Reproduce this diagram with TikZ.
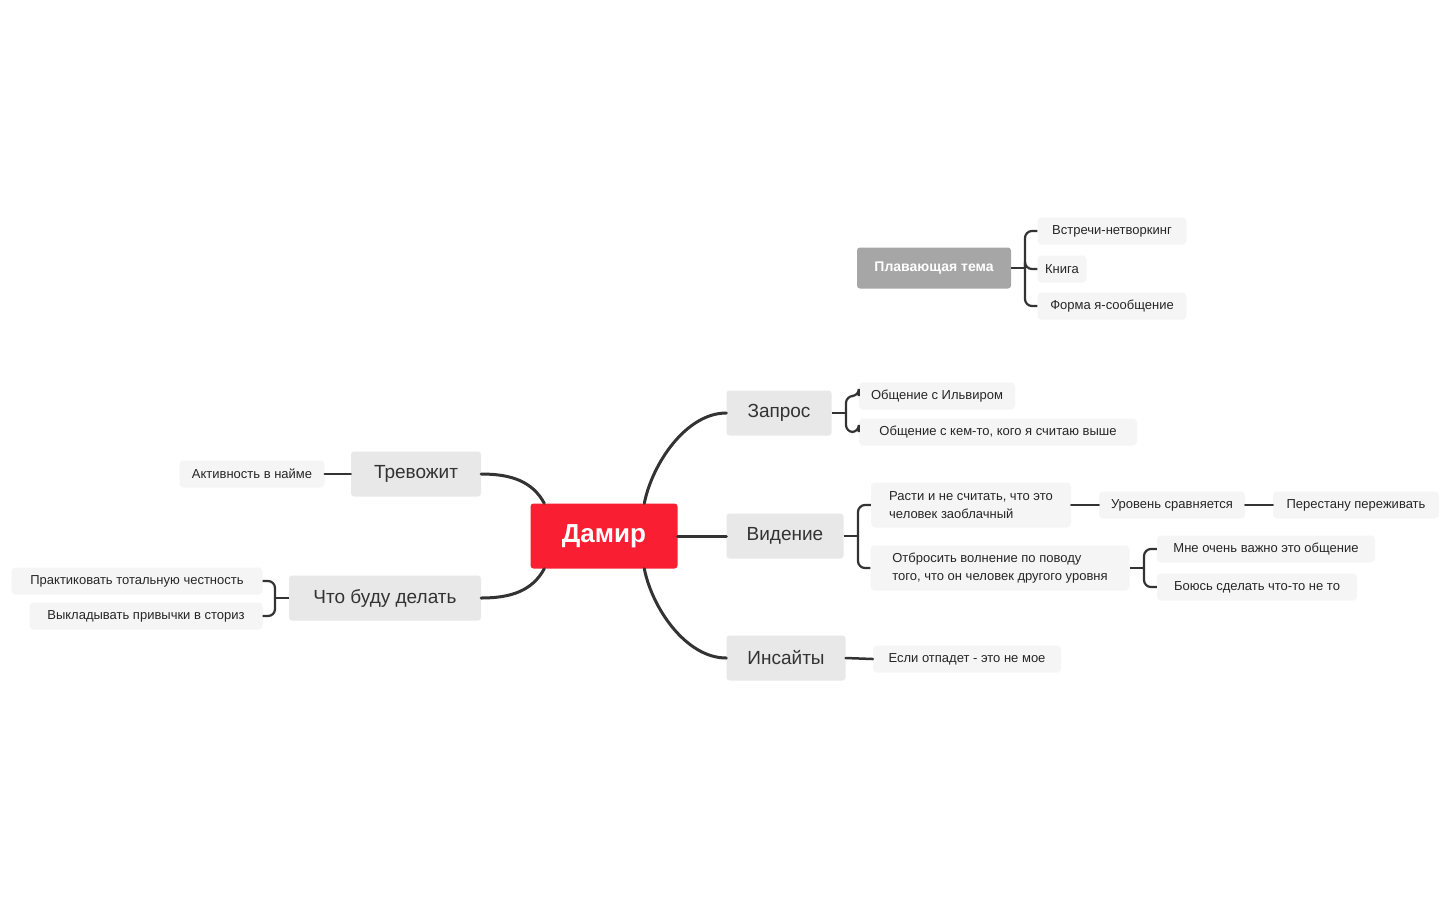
\documentclass[tikz,border=0pt]{standalone}
\usepackage{fontspec}
\setmainfont{Liberation Sans}
\usetikzlibrary{calc}
\definecolor{ln}{HTML}{333333}
\definecolor{subf}{HTML}{E8E8E8}
\definecolor{leaff}{HTML}{F5F5F5}
\definecolor{red1}{HTML}{FA1E32}
\definecolor{flt}{HTML}{A6A6A6}
\begin{document}
\begin{tikzpicture}[x=1pt,y=-1pt,
 root/.style={fill=red1,text=white,rounded corners=3,minimum width=147,minimum height=65,font=\fontsize{26}{30}\selectfont\bfseries},
 sub/.style={fill=subf,text=ln,rounded corners=3,minimum height=45,font=\fontsize{19}{22}\selectfont,inner xsep=17},
 flo/.style={fill=flt,text=white,rounded corners=3,minimum height=41,font=\fontsize{14}{17}\selectfont\bfseries,inner xsep=10},
 leaf/.style={fill=leaff,text=black!85,rounded corners=4,minimum height=27,font=\fontsize{13}{18}\selectfont,inner xsep=5},
 con/.style={draw=ln,line width=3,line cap=round},
 br/.style={draw=ln,line width=2.2,rounded corners=7}]
\fill[white] (0,0) rectangle (1450,898);
\node[root] (dam) at (604,536) {Дамир};
\node[sub,minimum width=105] (zap) at (779,413) {Запрос};
\node[sub,minimum width=117] (vid) at (785,536) {Видение};
\node[sub,minimum width=119] (ins) at (786,658) {Инсайты};
\node[sub,minimum width=130] (trv) at (416,474) {Тревожит};
\node[sub,minimum width=192] (chto) at (385,598) {Что буду делать};
\node[flo,minimum width=154] (flt) at (934,268) {Плавающая тема};
\node[leaf,minimum width=149] (l1) at (1112,231) {Встречи-нетворкинг};
\node[leaf,minimum width=49] (l2) at (1062,269) {Книга};
\node[leaf,minimum width=149] (l3) at (1112,306) {Форма я-сообщение};
\node[leaf,minimum width=156] (z1) at (937,396) {Общение с Ильвиром};
\node[leaf,minimum width=278] (z2) at (998,432) {Общение с кем-то, кого я считаю выше};
\node[leaf,minimum width=200,minimum height=45,align=left] (v1) at (971,505) {Расти и не считать, что это\\человек заоблачный};
\node[leaf,minimum width=146] (v11) at (1172,505) {Уровень сравняется};
\node[leaf,minimum width=166] (v111) at (1356,505) {Перестану переживать};
\node[leaf,minimum width=259,minimum height=45,align=left] (v2) at (1000,568) {Отбросить волнение по поводу\\того, что он человек другого уровня};
\node[leaf,minimum width=218] (v21) at (1266,549) {Мне очень важно это общение};
\node[leaf,minimum width=200] (v22) at (1257,587) {Боюсь сделать что-то не то};
\node[leaf,minimum width=188] (i1) at (967,659) {Если отпадет - это не мое};
\node[leaf,minimum width=145] (t1) at (252,474) {Активность в найме};
\node[leaf,minimum width=251] (c1) at (137,581) {Практиковать тотальную честность};
\node[leaf,minimum width=233] (c2) at (146,616) {Выкладывать привычки в сториз};
% main connectors
\draw[con] ($(dam.north west)+(114,0)$) .. controls +(8,-40) and +(-40,0) .. (zap.west);
\draw[con] (dam.east) -- (vid.west);
\draw[con] ($(dam.south west)+(114,0)$) .. controls +(8,40) and +(-40,0) .. (ins.west);
\draw[con] ($(dam.north west)+(14,0)$) .. controls +(-12,-22) and +(30,0) .. (trv.east);
\draw[con] ($(dam.south west)+(14,0)$) .. controls +(-12,22) and +(30,0) .. (chto.east);
% braces
\coordinate (bf) at (1025,268);
\draw[br] (flt.east) -- (bf);
\foreach \c in {l1,l2,l3} \draw[br] (bf) |- (\c.west);
\coordinate (bz) at (846,413);
\draw[br] (zap.east) -- (bz);
\foreach \c in {z1,z2} \draw[br] (bz) |- (z1.west |- \c.west) -- (\c.west);
\coordinate (bv) at (858,536);
\draw[br] (vid.east) -- (bv);
\foreach \c in {v1,v2} \draw[br] (bv) |- (\c.west);
\draw[con,line width=2.5] (v1.east) -- (v11.west);
\draw[con,line width=2.5] (v11.east) -- (v111.west);
\coordinate (bv2) at (1144,568);
\draw[br] (v2.east) -- (bv2);
\foreach \c in {v21,v22} \draw[br] (bv2) |- (\c.west);
\draw[con,line width=2.5] (ins.east) -- (i1.west);
\draw[con,line width=2.5] (trv.west) -- (t1.east);
\coordinate (bc) at (275,598);
\draw[br] (chto.west) -- (bc);
\foreach \c in {c1,c2} \draw[br] (bc) |- (\c.east);
\end{tikzpicture}
\end{document}
